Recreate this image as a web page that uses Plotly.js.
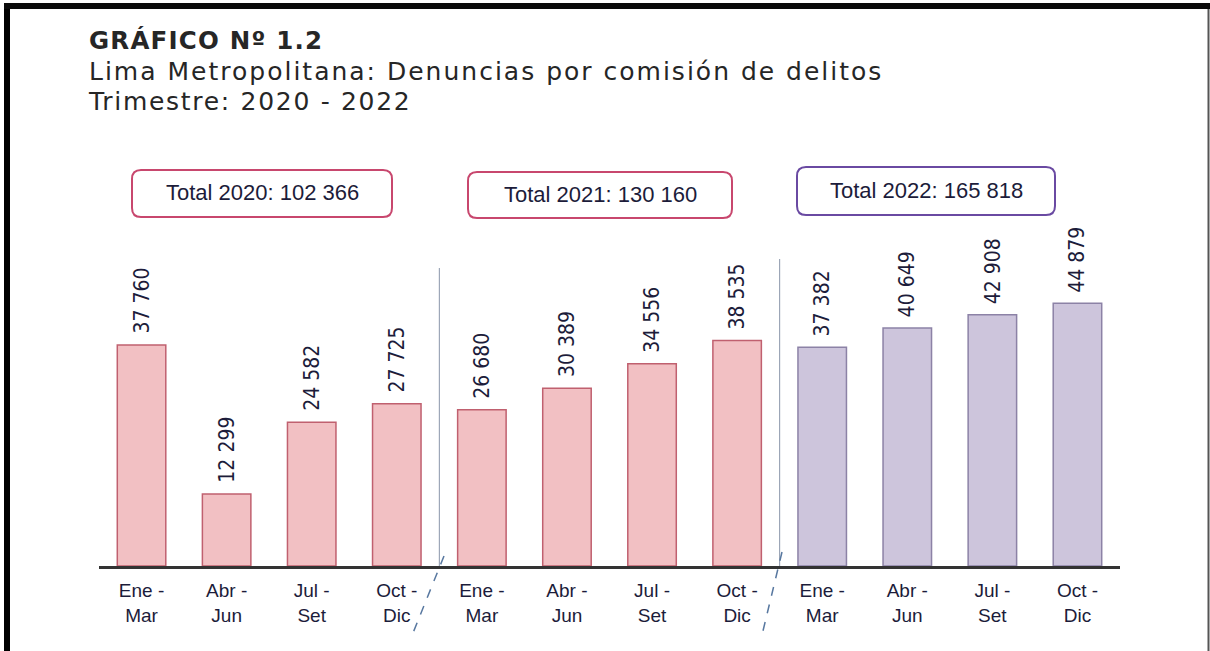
<!DOCTYPE html>
<html>
<head>
<meta charset="utf-8">
<script src="https://cdn.plot.ly/plotly-3.0.1.min.js"></script>
<style>html,body{margin:0;padding:0;background:#fff;}#chart{width:1210px;height:651px;}</style>
</head>
<body>
<div id="chart"></div>
<script>
// ---- data ----
const quarters = ["Ene -<br>Mar", "Abr -<br>Jun", "Jul -<br>Set", "Oct -<br>Dic"];
const years = ["2020", "2021", "2022"];
const values2020 = [37760, 12299, 24582, 27725];
const values2021 = [26680, 30389, 34556, 38535];
const values2022 = [37382, 40649, 42908, 44879];
const titleLines = ["GRÁFICO Nº 1.2", "Lima Metropolitana: Denuncias por comisión de delitos", "Trimestre: 2020 - 2022"];

// ---- styles ----
const W = 1210, H = 651;
const M = {l: 99, r: 90, t: 150, b: 85};
const PW = W - M.l - M.r, PH = H - M.t - M.b;
const px2x = p => (p - M.l) / PW;
const py2y = p => (H - M.b - p) / PH;
const pinkFill = '#f2c0c3', pinkLine = '#c0606f';
const lilacFill = '#cdc5dc', lilacLine = '#8c82a6';
const textCol = '#1c1c3a';
const narrow = '"Liberation Sans Narrow", "Arial Narrow", "DejaVu Sans Condensed", sans-serif';
const sans = '"Liberation Sans", Arial, sans-serif';
const titleFam = '"DejaVu Sans", "Open Sans", sans-serif';

const fmt = n => String(n).replace(/\B(?=(\d{3})+(?!\d))/g, ' ');
const sum = a => a.reduce((s, v) => s + v, 0);

const series = [values2020, values2021, values2022];
const fills = [pinkFill, pinkFill, lilacFill];
const lines = [pinkLine, pinkLine, lilacLine];

const traces = series.map((vals, yi) => ({
  type: 'bar',
  x: vals.map((_, qi) => yi * 4 + qi),
  y: vals,
  width: 0.57,
  marker: {color: fills[yi], line: {color: lines[yi], width: 1.5}},
  hoverinfo: 'skip',
  showlegend: false
}));

const tickvals = [], ticktext = [];
years.forEach((y, yi) => quarters.forEach((q, qi) => { tickvals.push(yi * 4 + qi); ticktext.push(q); }));

const annotations = [];
// value labels
series.forEach((vals, yi) => vals.forEach((v, qi) => {
  annotations.push({
    x: yi * 4 + qi, y: v, xref: 'x', yref: 'y',
    text: fmt(v), textangle: -90, showarrow: false,
    xanchor: 'center', yanchor: 'bottom', yshift: 9,
    font: {family: narrow, size: 21, color: textCol}
  });
}));

// title block (one text, three lines)
const titleText =
  '<span style="font-size:24.5px;letter-spacing:1.2px"><b>' + titleLines[0] + '</b></span><br>' +
  '<span style="font-size:25px;letter-spacing:2px">' + titleLines[1] + '</span><br>' +
  '<span style="font-size:25px;letter-spacing:1.7px">' + titleLines[2] + '</span>';
annotations.push({
  xref: 'paper', yref: 'paper', x: px2x(86), y: py2y(71),
  xanchor: 'left', yanchor: 'middle', align: 'left', showarrow: false,
  text: titleText, font: {family: titleFam, size: 23.5, color: '#262626'}
});

// total boxes
const boxes = [
  {x0: 132, x1: 392, y0: 170, y1: 217, col: '#c8476e'},
  {x0: 468, x1: 732, y0: 172, y1: 218, col: '#c8476e'},
  {x0: 797, x1: 1055, y0: 167, y1: 215, col: '#6a4aa2'}
];
const shapes = [];
function roundRect(b, r) {
  const X = p => px2x(p), Y = p => py2y(p);
  return 'M ' + X(b.x0 + r) + ' ' + Y(b.y0) +
    ' L ' + X(b.x1 - r) + ' ' + Y(b.y0) +
    ' Q ' + X(b.x1) + ' ' + Y(b.y0) + ' ' + X(b.x1) + ' ' + Y(b.y0 + r) +
    ' L ' + X(b.x1) + ' ' + Y(b.y1 - r) +
    ' Q ' + X(b.x1) + ' ' + Y(b.y1) + ' ' + X(b.x1 - r) + ' ' + Y(b.y1) +
    ' L ' + X(b.x0 + r) + ' ' + Y(b.y1) +
    ' Q ' + X(b.x0) + ' ' + Y(b.y1) + ' ' + X(b.x0) + ' ' + Y(b.y1 - r) +
    ' L ' + X(b.x0) + ' ' + Y(b.y0 + r) +
    ' Q ' + X(b.x0) + ' ' + Y(b.y0) + ' ' + X(b.x0 + r) + ' ' + Y(b.y0) + ' Z';
}
boxes.forEach((b, i) => {
  shapes.push({type: 'path', xref: 'paper', yref: 'paper', path: roundRect(b, 9),
    line: {color: b.col, width: 2}, fillcolor: 'rgba(255,255,255,0)'});
  annotations.push({
    xref: 'paper', yref: 'paper', x: px2x((b.x0 + b.x1) / 2), y: py2y((b.y0 + b.y1) / 2 - 1),
    xanchor: 'center', yanchor: 'middle', showarrow: false,
    text: 'Total ' + years[i] + ': ' + fmt(sum(series[i])),
    font: {family: sans, size: 22, color: textCol}
  });
});

// year separators
const seps = [
  {x: 3.5, top: 268, bx0: 444, by0: 556, bx1: 413, by1: 633},
  {x: 7.5, top: 259, bx0: 782, by0: 552, bx1: 762, by1: 635}
];
seps.forEach(s => {
  shapes.push({type: 'line', xref: 'x', yref: 'paper', x0: s.x, x1: s.x, y0: py2y(s.top), y1: 0,
    line: {color: '#8a96aa', width: 1}});
  shapes.push({type: 'line', xref: 'paper', yref: 'paper', x0: px2x(s.bx0), y0: py2y(s.by0),
    x1: px2x(s.bx1), y1: py2y(s.by1), line: {color: '#5878a0', width: 1.5, dash: 'dash'}});
});

// frame
shapes.push({type: 'rect', xref: 'paper', yref: 'paper', x0: px2x(4), x1: px2x(10), y0: py2y(3), y1: py2y(660),
  line: {width: 0}, fillcolor: '#000'});
shapes.push({type: 'rect', xref: 'paper', yref: 'paper', x0: px2x(4), x1: px2x(1210), y0: py2y(3), y1: py2y(9),
  line: {width: 0}, fillcolor: '#0a0a0a'});
shapes.push({type: 'line', xref: 'paper', yref: 'paper', x0: px2x(1208.5), x1: px2x(1208.5), y0: py2y(9), y1: py2y(660),
  line: {width: 2, color: '#555'}});

const layout = {
  width: W, height: H,
  margin: M,
  paper_bgcolor: '#fff', plot_bgcolor: '#fff',
  bargap: 0,
  xaxis: {
    range: [-0.5, 11.5], tickvals: tickvals, ticktext: ticktext,
    showgrid: false, zeroline: false, showline: true, linecolor: '#333', linewidth: 2.5,
    ticks: '', ticklabelstandoff: 6, tickfont: {family: sans, size: 19, color: textCol}, fixedrange: true
  },
  yaxis: {
    range: [0, PH / (221 / 37760)], visible: false, showgrid: false, zeroline: false, fixedrange: true
  },
  shapes: shapes,
  annotations: annotations
};

Plotly.newPlot('chart', traces, layout, {displayModeBar: false, staticPlot: true});
</script>
</body>
</html>
